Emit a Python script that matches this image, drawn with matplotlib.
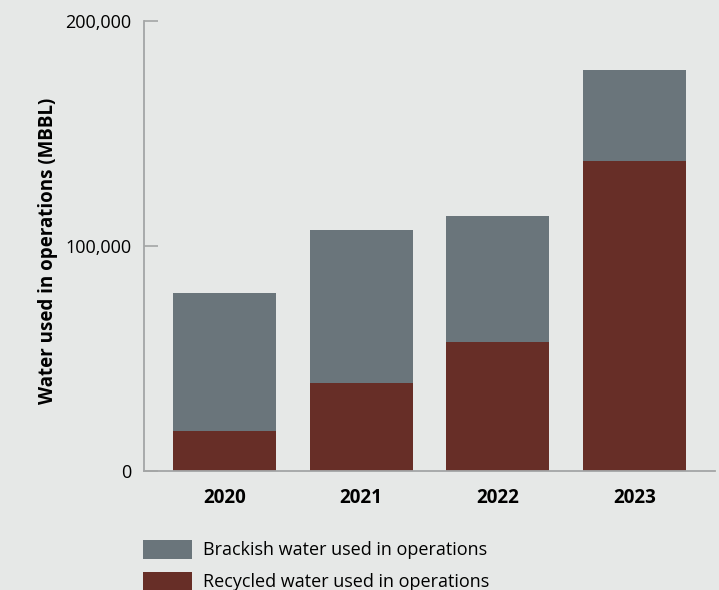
import matplotlib.pyplot as plt
from matplotlib.patches import Patch
from matplotlib.ticker import FuncFormatter
import numpy as np

# water used in operations, MBBL
years = ['2020', '2021', '2022', '2023']
recycled = [17800, 39100, 57300, 137800]
brackish = [61300, 68000, 56000, 40400]
yticks = [0, 100000, 200000]

bg = '#e6e8e7'
gray = '#6a757b'
red = '#672e27'
axis_col = '#a3a5a6'

plt.rcParams['font.family'] = ['Open Sans', 'DejaVu Sans']

fig = plt.figure(figsize=(7.19, 5.90), dpi=100, facecolor=bg)
ax = fig.add_axes([144/719, 1 - 471/590, (715-144)/719, 450/590])
ax.set_facecolor(bg)

x = np.arange(len(years))
w = 0.754
ax.bar(x, recycled, w, color=red, zorder=2)
ax.bar(x, brackish, w, bottom=recycled, color=gray, zorder=2)

ax.set_xlim(-0.589, 3.589)
ax.set_ylim(0, 200000)
ax.set_yticks(yticks)
ax.yaxis.set_major_formatter(FuncFormatter(lambda v, p: f'{int(v):,}'))
ax.set_xticks(x)
ax.set_xticklabels(years, fontweight='bold', fontsize=13.5)
ax.tick_params(axis='x', length=0, pad=12)
ax.tick_params(axis='y', direction='in', length=10, width=1.2, color=axis_col,
               labelsize=13, pad=9)

for s in ['top', 'right']:
    ax.spines[s].set_visible(False)
for s in ['left', 'bottom']:
    ax.spines[s].set_color(axis_col)
    ax.spines[s].set_linewidth(1.3)

ax.set_ylabel('Water used in operations (MBBL)', fontsize=13.5, fontweight='bold')
ax.yaxis.set_label_coords(-0.151, 0.49)

handles = [Patch(facecolor=gray, label='Brackish water used in operations'),
           Patch(facecolor=red, label='Recycled water used in operations')]
fig.legend(handles=handles, loc='upper left', bbox_to_anchor=(143/719, 1 - 540/590),
           frameon=False, handlelength=2.7, handleheight=1.2, handletextpad=0.6,
           labelspacing=0.68, borderaxespad=0, borderpad=0,
           prop={'size': 13})

fig.savefig('out.png', dpi=100, facecolor=bg)
